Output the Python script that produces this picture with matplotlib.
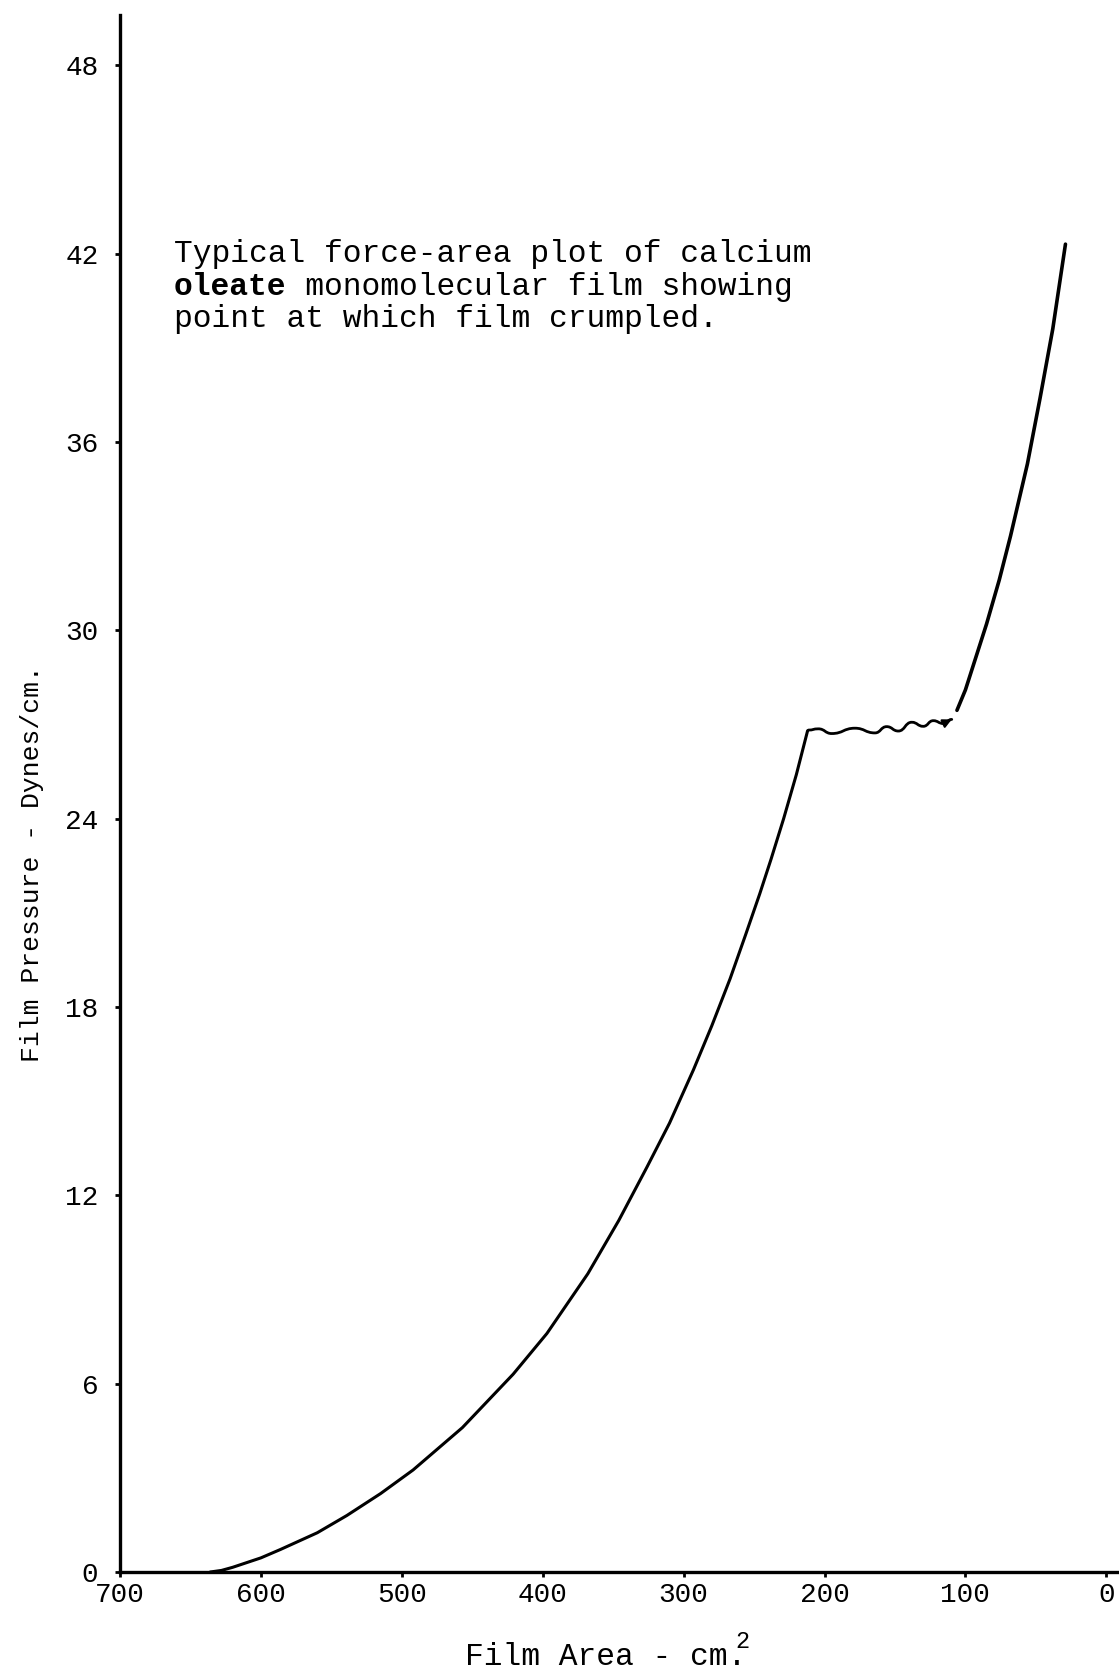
import matplotlib
matplotlib.use("Agg")
import matplotlib.pyplot as plt
from matplotlib.path import Path
from matplotlib.patches import PathPatch

plt.rcParams['font.family'] = ['Liberation Mono', 'DejaVu Sans Mono']

# compression up to the crumple point
area_low = [636, 628, 620, 600, 586, 560, 539, 515, 492, 457, 421, 397, 368, 346, 326, 310,
            293, 280, 267, 256, 246, 238, 229, 220, 212]
press_low = [0.0, 0.05, 0.15, 0.45, 0.72, 1.25, 1.8, 2.5, 3.25, 4.6, 6.3, 7.6, 9.5, 11.2, 12.9, 14.3,
             16.0, 17.4, 18.9, 20.3, 21.6, 22.7, 24.0, 25.4, 26.8]

# wavy collapse segment (crests and troughs)
area_wave = [211.5, 204.4, 194.9, 178.4, 164.2, 155.9, 147.6, 138.1, 129.9, 122.8, 115.7, 109.7]
press_wave = [26.82, 26.86, 26.71, 26.88, 26.73, 26.93, 26.79, 27.07, 26.94, 27.12, 27.03, 27.16]

# after the crumple
area_high = [106, 100, 95, 85, 76, 68, 56, 47, 38, 29]
press_high = [27.45, 28.1, 28.8, 30.2, 31.6, 33.0, 35.3, 37.4, 39.6, 42.3]

xticks = [700, 600, 500, 400, 300, 200, 100, 0]
yticks = [0, 6, 12, 18, 24, 30, 36, 42, 48]

W, H = 1119, 1672
fig = plt.figure(figsize=(W / 100, H / 100), dpi=100)
ax = fig.add_axes([120 / W, 1 - 1572 / H, 1 - 120 / W, (1572 - 15) / H])

ax.plot(area_low, press_low, color='black', lw=2.2, solid_capstyle='round', solid_joinstyle='round')
ax.plot(area_high, press_high, color='black', lw=2.6, solid_capstyle='round', solid_joinstyle='round')

# smooth wave through the crests/troughs (horizontal tangents at each extreme)
verts = [(area_wave[0], press_wave[0])]
codes = [Path.MOVETO]
for i in range(1, len(area_wave)):
    x0, y0 = area_wave[i - 1], press_wave[i - 1]
    x1, y1 = area_wave[i], press_wave[i]
    dx = (x1 - x0) / 2
    verts += [(x0 + dx, y0), (x1 - dx, y1), (x1, y1)]
    codes += [Path.CURVE4] * 3
ax.add_patch(PathPatch(Path(verts, codes), fill=False, edgecolor='black', lw=2.0, capstyle='round'))
ax.annotate('', xy=(area_wave[-1], press_wave[-1]), xytext=(area_wave[-2], press_wave[-2]),
            arrowprops=dict(arrowstyle='-|>', color='black', lw=1.5, mutation_scale=13, shrinkA=0, shrinkB=0))

ax.set_xlim(700, -9)
ax.set_ylim(0, 49.6)
ax.set_xticks(xticks)
ax.set_yticks(yticks)
ax.tick_params(axis='x', direction='out', length=3.5, width=2, pad=4, labelsize=20)
ax.tick_params(axis='y', direction='out', length=3.5, width=2, pad=12, labelsize=20)
for s in ['top', 'right']:
    ax.spines[s].set_visible(False)
for s in ['left', 'bottom']:
    ax.spines[s].set_linewidth(2.4)

fig.text(606 / W, 1 - 1657 / H, 'Film Area - cm.', ha='center', va='center', fontsize=22.5)
fig.text(742 / W, 1 - 1641 / H, '2', ha='center', va='center', fontsize=17)
fig.text(32 / W, 1 - 864 / H, 'Film Pressure - Dynes/cm.', rotation=90,
         ha='center', va='center', fontsize=19)

# note in the plot
x0 = 174 / W
fs = 22.5
fig.text(x0, 1 - 262 / H, 'Typical force-area plot of calcium', fontsize=fs, va='baseline')
fig.text(x0, 1 - 295 / H, 'oleate', fontsize=fs, va='baseline', fontweight='bold')
fig.text(x0, 1 - 295 / H, '       monomolecular film showing', fontsize=fs, va='baseline')
fig.text(x0, 1 - 327 / H, 'point at which film crumpled.', fontsize=fs, va='baseline')

plt.savefig('out.png', dpi=100)
